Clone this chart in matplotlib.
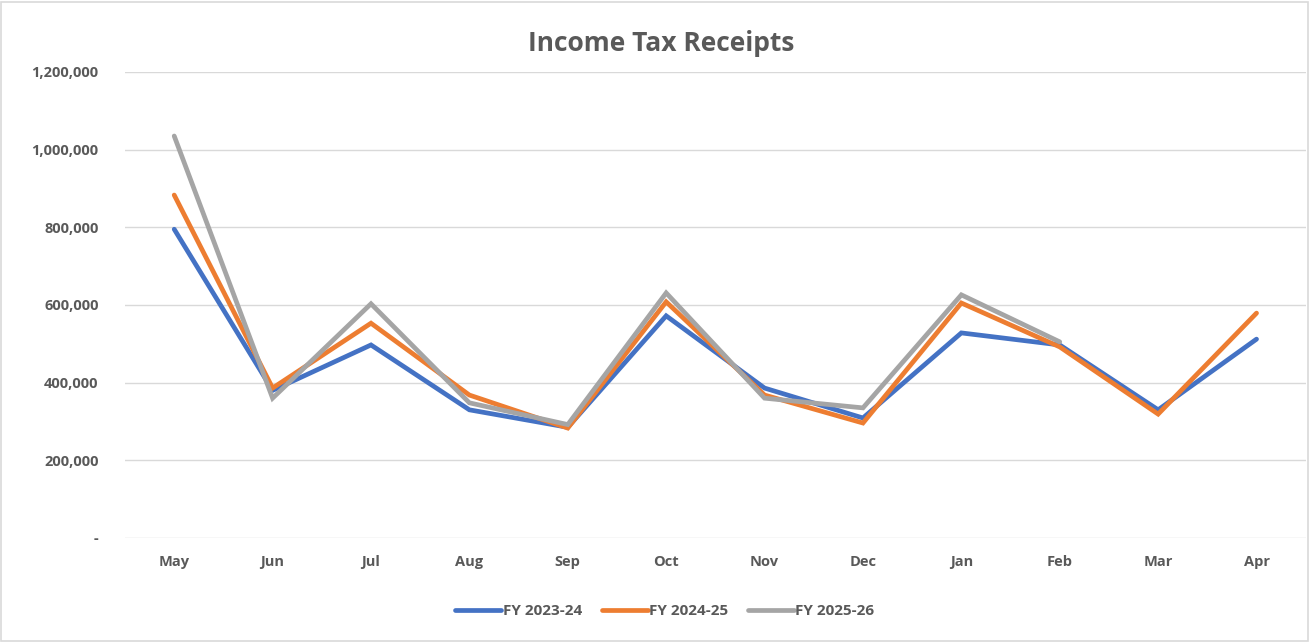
import matplotlib.pyplot as plt
from matplotlib.patches import Rectangle
from matplotlib.ticker import FuncFormatter

months = ['May', 'Jun', 'Jul', 'Aug', 'Sep', 'Oct', 'Nov', 'Dec', 'Jan', 'Feb', 'Mar', 'Apr']
fy_2023_24 = [795000, 380000, 497000, 330000, 285000, 572000, 386000, 309000, 528000, 497000, 330000, 512000]
fy_2024_25 = [883000, 386000, 553000, 368000, 283000, 608000, 368000, 296000, 605000, 492000, 319000, 579000]
fy_2025_26 = [1035000, 360000, 603000, 348000, 292000, 631000, 360000, 335000, 626000, 505000]

series = [
    ('FY 2023-24', fy_2023_24, '#4472C4'),
    ('FY 2024-25', fy_2024_25, '#ED7D31'),
    ('FY 2025-26', fy_2025_26, '#A5A5A5'),
]

plt.rcParams['font.family'] = ['Open Sans', 'DejaVu Sans']
text_color = '#595959'

fig = plt.figure(figsize=(13.09, 6.42), dpi=100)
ax = fig.add_axes([0.0955, 0.162, 0.902, 0.726])

for label, vals, color in series:
    ax.plot(months[:len(vals)], vals, color=color, lw=3.4, label=label,
            solid_capstyle='round', solid_joinstyle='miter')

ax.set_xlim(-0.5, len(months) - 0.5)
ax.set_ylim(0, 1200000)
ax.set_yticks(range(0, 1200001, 200000))
ax.yaxis.set_major_formatter(FuncFormatter(lambda v, p: '-' if v == 0 else f'{int(v):,}'))
ax.grid(axis='y', color='#d9d9d9', lw=1)
ax.set_axisbelow(True)
for s in ax.spines.values():
    s.set_visible(False)
ax.tick_params(length=0, labelsize=10.5, labelcolor=text_color, pad=12)
ax.tick_params(axis='y', pad=19)
for t in ax.get_xticklabels() + ax.get_yticklabels():
    t.set_fontweight('bold')

fig.text(0.505, 0.933, 'Income Tax Receipts', ha='center', va='center',
         fontsize=19, fontweight='bold', color=text_color)

leg = fig.legend(loc='center', bbox_to_anchor=(0.508, 0.048), ncol=3, frameon=False,
                 handlelength=3.0, handletextpad=0.1, columnspacing=1.3,
                 prop={'weight': 'bold', 'size': 11})
for t in leg.get_texts():
    t.set_color(text_color)

fig.patches.append(Rectangle((0.001, 0.002), 0.998, 0.995, transform=fig.transFigure,
                             fill=False, edgecolor='#d9d9d9', lw=1.2))

fig.savefig('out.png', dpi=100)
